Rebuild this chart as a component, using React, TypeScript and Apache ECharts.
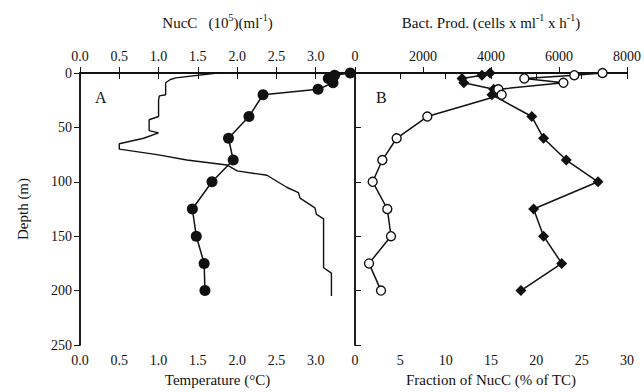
import React, { useEffect, useRef } from "react";
import * as echarts from "echarts";

// Panel A
const nucDepth = [0, 2, 5, 9, 15, 20, 40, 60, 80, 100, 125, 150, 175, 200];
const nucC = [3.44, 3.24, 3.16, 3.22, 3.03, 2.33, 2.15, 1.89, 1.95, 1.68, 1.43, 1.48, 1.58, 1.59];
const tempDepth = [0, 4.5, 6, 9, 20, 21, 25, 40, 43, 53, 55, 60, 65, 70, 75, 80, 84.5, 90, 94, 105, 110, 115, 124, 130, 134, 179, 184, 205];
const temperature = [1.75, 1.22, 1.15, 1.09, 1.09, 1.01, 1.0, 1.0, 0.88, 0.88, 1.0, 0.81, 0.5, 0.5, 0.98, 1.36, 1.87, 2.0, 2.38, 2.63, 2.78, 2.8, 2.99, 3.01, 3.1, 3.1, 3.2, 3.2];

// Panel B
const bDepth = [0, 2, 5, 9, 15, 20, 40, 60, 80, 100, 125, 150, 175, 200];
const bactProd = [7280, 6450, 4980, 6130, 4215, 4314, 2127, 1225, 804, 520, 950, 1059, 412, 765];
const fraction = [14.9, 14.0, 11.8, 12.0, 15.3, 15.1, 19.5, 20.8, 23.3, 26.8, 19.7, 20.8, 22.8, 18.3];

const FONT = "Liberation Serif";
const BLACK = "#111";

const zip = (xs: number[], ys: number[]) => xs.map((x, i) => [x, ys[i]]);

export default function App() {
  const ref = useRef<HTMLDivElement>(null);
  useEffect(() => {
    if (!ref.current) return;
    const chart = echarts.init(ref.current, null, { renderer: "svg" });
    const axisLine = { show: true, lineStyle: { color: BLACK, width: 1.5 } };
    const label = { color: BLACK, fontFamily: FONT, fontSize: 14 };
    const nameStyle = {
      color: BLACK,
      fontFamily: FONT,
      fontSize: 15,
      rich: {
        n: { color: BLACK, fontFamily: FONT, fontSize: 15, lineHeight: 18, verticalAlign: "bottom" },
        sup: { color: BLACK, fontFamily: FONT, fontSize: 10, lineHeight: 18, verticalAlign: "top", padding: [0, 0, 6, 0] },
      },
    };
    const xBase = (gridIndex: number, position: string, min: number, max: number, interval: number, fmt: (v: number) => string, name: string, nameGap: number) => ({
      type: "value",
      gridIndex,
      position,
      min,
      max,
      interval,
      name,
      nameLocation: "middle",
      nameGap,
      nameTextStyle: nameStyle,
      axisLine: position === "bottom" ? { show: true, lineStyle: { color: BLACK, width: 2 } } : axisLine,
      axisTick: { show: true, inside: false, length: 6, lineStyle: { color: BLACK, width: 1 } },
      axisLabel: { ...label, margin: position === "top" ? 10 : 8, formatter: fmt, showMinLabel: true, showMaxLabel: true },
      splitLine: { show: false },
    });
    const one = (v: number) => (v >= 3.5 ? "" : v.toFixed(1));
    const option = {
      animation: false,
      backgroundColor: "#fff",
      grid: [
        { left: 80, top: 73, width: 275, height: 276 },
        { left: 355, top: 73, width: 272, height: 276 },
      ],
      xAxis: [
        xBase(0, "top", 0, 3.5, 0.5, one, "{n|NucC   (10}{sup|5}{n|)(ml}{sup|-1}{n|)}", 43),
        xBase(0, "bottom", 0, 3.5, 0.5, one, "Temperature (°C)", 27),
        xBase(1, "top", 0, 8000, 2000, (v: number) => String(v), "{n|Bact. Prod. (cells x ml}{sup|-1}{n| x h}{sup|-1}{n|)}", 43),
        xBase(1, "bottom", 0, 30, 5, (v: number) => String(v), "Fraction of NucC (% of TC)", 27),
      ],
      yAxis: [
        {
          type: "value",
          gridIndex: 0,
          position: "left",
          inverse: true,
          min: 0,
          max: 250,
          interval: 50,
          name: "Depth (m)",
          nameLocation: "middle",
          nameGap: 50,
          nameTextStyle: { color: BLACK, fontFamily: FONT, fontSize: 15 },
          axisLine,
          axisTick: { show: true, length: 6, lineStyle: { color: BLACK, width: 1 } },
          axisLabel: { ...label, margin: 8 },
          splitLine: { show: false },
        },
        {
          type: "value",
          gridIndex: 0,
          position: "right",
          inverse: true,
          min: 0,
          max: 250,
          interval: 50,
          axisLine,
          axisTick: { show: false },
          axisLabel: { show: false },
          splitLine: { show: false },
        },
        {
          type: "value",
          gridIndex: 1,
          position: "left",
          inverse: true,
          min: 0,
          max: 250,
          interval: 50,
          axisLine,
          axisTick: { show: true, inside: true, length: 6, lineStyle: { color: BLACK, width: 1 } },
          axisLabel: { show: false },
          splitLine: { show: false },
        },
        {
          type: "value",
          gridIndex: 1,
          position: "right",
          inverse: true,
          min: 0,
          max: 250,
          interval: 50,
          axisLine,
          axisTick: { show: false },
          axisLabel: { show: false },
          splitLine: { show: false },
        },
      ],
      series: [
        {
          name: "Temperature",
          type: "line",
          xAxisIndex: 1,
          yAxisIndex: 0,
          data: zip(temperature, tempDepth),
          symbol: "none",
          clip: false,
          lineStyle: { color: BLACK, width: 1.4 },
        },
        {
          name: "NucC",
          type: "line",
          xAxisIndex: 0,
          yAxisIndex: 0,
          data: zip(nucC, nucDepth),
          symbol: "circle",
          symbolSize: 11,
          clip: false,
          lineStyle: { color: BLACK, width: 1.5 },
          itemStyle: { color: BLACK },
        },
        {
          name: "Bact. Prod.",
          type: "line",
          xAxisIndex: 2,
          yAxisIndex: 2,
          data: zip(bactProd, bDepth),
          symbol: "circle",
          symbolSize: 9,
          clip: false,
          lineStyle: { color: BLACK, width: 1.5 },
          itemStyle: { color: "#fff", borderColor: BLACK, borderWidth: 1.4 },
          z: 3,
        },
        {
          name: "Fraction",
          type: "line",
          xAxisIndex: 3,
          yAxisIndex: 2,
          data: zip(fraction, bDepth),
          symbol: "diamond",
          symbolSize: 11,
          clip: false,
          lineStyle: { color: BLACK, width: 1.5 },
          itemStyle: { color: BLACK },
          z: 2,
        },
      ],
      graphic: [
        { type: "text", left: 95, top: 89, style: { text: "A", fill: BLACK, font: `16px "${FONT}"` } },
        { type: "text", left: 376, top: 89, style: { text: "B", fill: BLACK, font: `16px "${FONT}"` } },
      ],
    };
    chart.setOption(option as any);
    return () => chart.dispose();
  }, []);
  return <div ref={ref} style={{ position: "absolute", left: 0, top: 0, width: 644, height: 392 }} />;
}
